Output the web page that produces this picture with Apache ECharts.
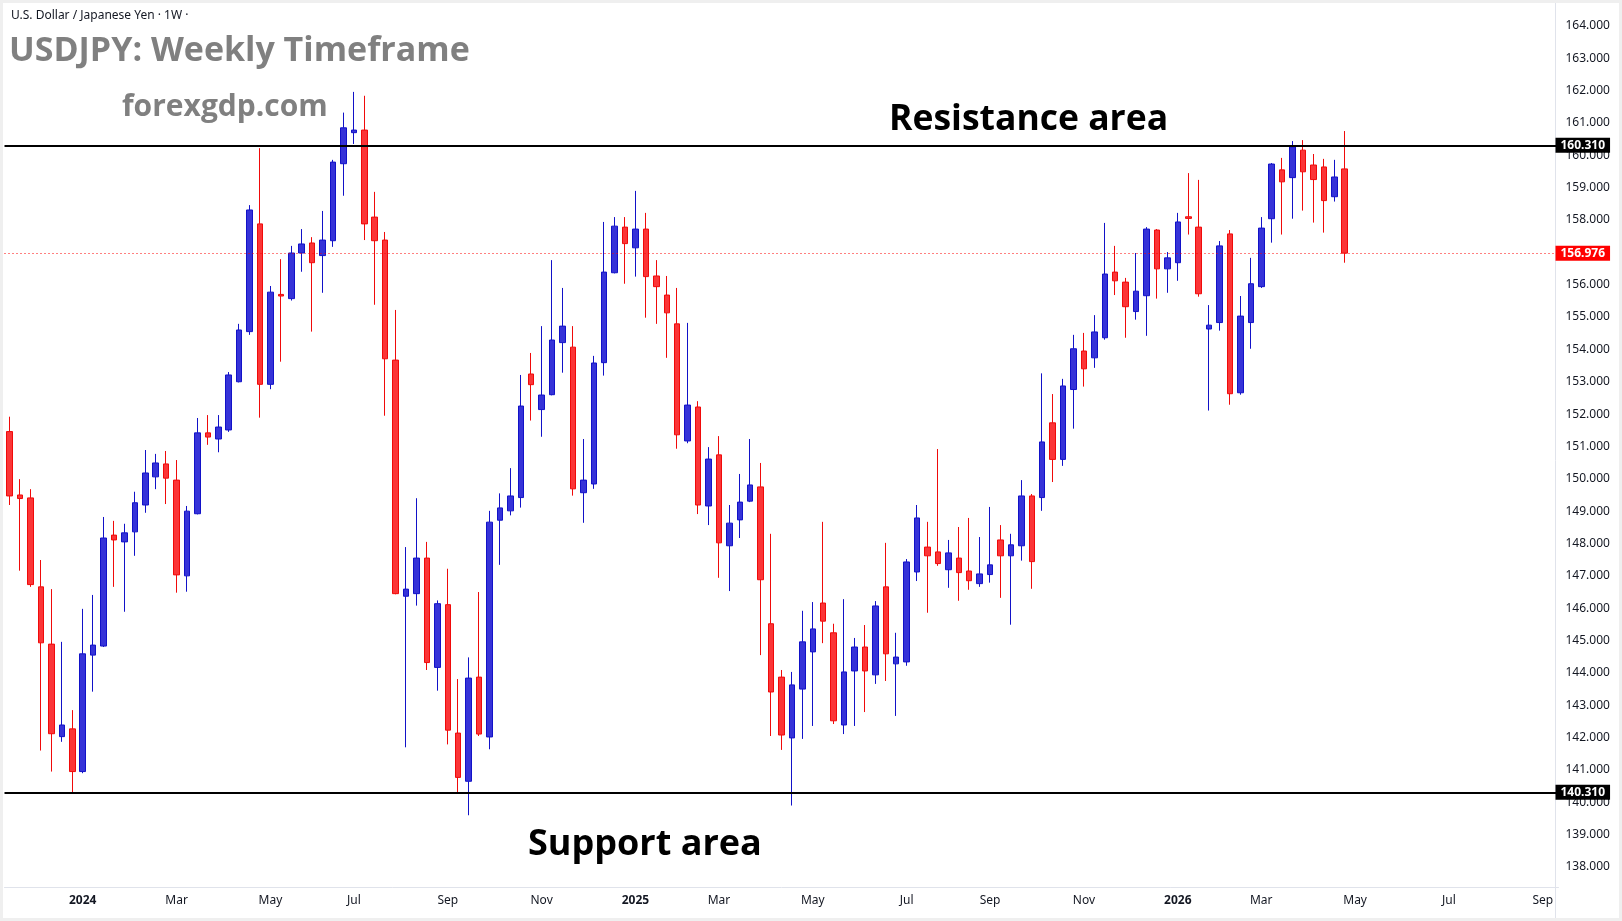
<!DOCTYPE html>
<html>
<head>
<meta charset="utf-8">
<title>USDJPY Weekly</title>
<script src="https://cdn.jsdelivr.net/npm/echarts@6/dist/echarts.min.js"></script>
<style>
html, body {
  margin: 0;
  padding: 0;
  background: #fff;
}
#main {
  width: 1622px;
  height: 921px;
  background: #fff;
  box-shadow: inset 0 0 0 3px #efefef;
}
</style>
</head>
<body>
<div id="main"></div>
<script>
// weekly candles, first one is the week of 2023-11-13
var firstWeek = '2023-11-13'
var weeksOnAxis = 149

var opens = [
  151.46, 149.50, 149.41, 146.66, 144.89, 142.03, 142.27, 140.95, 144.55, 144.83,
  148.26, 148.05, 148.36, 149.19, 150.06, 150.46, 149.96, 147.00, 148.92, 151.42,
  151.23, 151.51, 153.00, 154.55, 157.88, 152.92, 155.70, 155.57, 156.98, 157.29,
  156.90, 157.36, 159.74, 160.70, 160.78, 158.09, 157.38, 153.67, 146.37, 146.45,
  147.55, 144.17, 146.11, 142.14, 140.65, 143.87, 142.02, 148.72, 149.01, 149.42,
  153.24, 152.14, 152.60, 154.21, 154.07, 149.57, 149.84, 153.59, 156.37, 157.78,
  157.14, 157.72, 156.27, 155.68, 154.79, 151.17, 152.22, 149.16, 150.74, 147.93,
  148.73, 149.31, 149.75, 145.52, 143.87, 141.99, 143.50, 144.65, 146.16, 145.24,
  142.39, 144.06, 144.80, 143.94, 146.66, 144.28, 144.34, 147.12, 147.89, 147.74,
  147.19, 147.55, 147.15, 146.76, 147.04, 148.11, 147.62, 147.93, 149.47, 149.42,
  151.73, 150.60, 152.76, 153.95, 153.74, 154.36, 156.39, 156.08, 155.17, 155.66,
  157.69, 156.49, 156.68, 158.10, 157.78, 154.63, 154.83, 157.57, 152.66, 154.83,
  155.94, 158.04, 159.55, 159.31, 160.16, 159.70, 159.64, 158.72, 159.58
]
var closes = [
  149.47, 149.39, 146.73, 144.93, 142.12, 142.39, 140.95, 144.59, 144.86, 148.17,
  148.11, 148.33, 149.26, 150.18, 150.49, 150.02, 147.03, 149.00, 151.42, 151.29,
  151.60, 153.21, 154.60, 158.31, 152.92, 155.77, 155.65, 156.98, 157.26, 156.68,
  157.38, 159.79, 160.85, 160.78, 157.88, 157.36, 153.71, 146.45, 146.59, 147.55,
  144.32, 146.14, 142.23, 140.77, 143.84, 142.11, 148.66, 149.10, 149.47, 152.25,
  152.91, 152.59, 154.29, 154.72, 149.69, 149.96, 153.58, 156.39, 157.81, 157.27,
  157.72, 156.25, 155.94, 155.13, 151.36, 152.28, 149.19, 150.61, 148.02, 148.63,
  149.28, 149.81, 146.88, 143.41, 142.08, 143.63, 144.96, 145.36, 145.60, 142.52,
  144.03, 144.80, 144.06, 146.07, 144.59, 144.49, 147.43, 148.79, 147.62, 147.38,
  147.71, 147.10, 146.85, 147.06, 147.34, 147.62, 147.96, 149.47, 147.44, 151.14,
  150.60, 152.87, 154.02, 153.40, 154.54, 156.33, 156.12, 155.32, 155.80, 157.72,
  156.49, 156.83, 157.94, 158.05, 155.72, 154.75, 157.20, 152.63, 155.03, 156.03,
  157.75, 159.73, 159.18, 160.26, 159.49, 159.25, 158.60, 159.33, 156.976
]
var lows = [
  149.19, 147.16, 146.66, 141.60, 140.95, 141.87, 140.28, 140.90, 143.42, 144.80,
  146.66, 145.89, 147.62, 148.95, 149.68, 149.22, 146.48, 146.51, 148.90, 151.05,
  150.82, 151.45, 152.98, 154.45, 151.89, 152.77, 153.62, 155.51, 156.40, 154.55,
  155.75, 157.17, 158.75, 160.35, 157.38, 155.38, 151.95, 146.43, 141.70, 146.08,
  144.09, 143.45, 141.79, 140.30, 139.60, 142.05, 141.64, 147.34, 148.87, 149.11,
  151.80, 151.30, 152.58, 153.28, 149.48, 148.64, 149.69, 153.19, 156.35, 156.03,
  156.25, 154.98, 154.79, 153.74, 150.93, 151.10, 148.91, 148.57, 146.94, 146.53,
  148.17, 149.28, 144.55, 142.05, 141.62, 139.90, 141.96, 142.36, 144.92, 142.42,
  142.11, 142.36, 142.79, 143.66, 143.75, 142.67, 144.22, 146.84, 145.86, 147.31,
  146.63, 146.23, 146.57, 146.66, 146.79, 146.32, 145.49, 147.47, 146.60, 149.01,
  149.90, 150.40, 151.55, 152.85, 153.43, 154.30, 155.68, 154.36, 154.92, 154.42,
  155.57, 155.75, 156.12, 157.55, 155.63, 152.11, 154.58, 152.29, 152.60, 154.02,
  155.90, 157.30, 157.55, 158.04, 158.29, 157.92, 157.61, 158.57, 156.68
]
var highs = [
  151.92, 149.99, 149.68, 147.49, 146.59, 144.96, 142.85, 145.98, 146.41, 148.82,
  148.70, 148.61, 149.60, 150.89, 150.77, 150.86, 150.58, 149.16, 151.88, 151.97,
  151.97, 153.30, 154.79, 158.46, 160.22, 155.96, 156.79, 157.20, 157.72, 157.47,
  158.28, 159.86, 161.32, 161.96, 161.84, 158.87, 157.63, 155.22, 147.89, 149.40,
  148.05, 146.24, 147.22, 143.81, 144.48, 146.50, 149.01, 149.55, 150.33, 153.21,
  153.89, 154.72, 156.76, 155.90, 154.72, 151.23, 153.80, 157.94, 158.09, 158.09,
  158.90, 158.22, 156.76, 156.27, 155.90, 154.82, 152.40, 150.98, 151.32, 149.19,
  150.15, 151.23, 150.49, 148.30, 144.09, 144.03, 145.92, 146.19, 148.67, 145.52,
  146.28, 145.08, 145.48, 146.22, 148.02, 145.24, 147.52, 149.19, 148.67, 150.92,
  148.11, 148.51, 148.79, 148.20, 149.13, 148.57, 148.30, 149.96, 149.53, 153.26,
  152.62, 153.09, 154.45, 154.51, 155.06, 157.91, 157.20, 156.21, 156.98, 157.78,
  157.72, 157.01, 158.22, 159.45, 159.24, 155.37, 157.35, 157.69, 155.65, 156.83,
  158.09, 159.76, 159.92, 160.44, 160.47, 160.04, 159.89, 159.86, 160.75
]

var priceTicks = []
for (var t = 138; t <= 164; t++) priceTicks.push(t)

var resistance = 160.31
var support = 140.31
var lastClose = 156.976
var monthNames = ['Jan', 'Feb', 'Mar', 'Apr', 'May', 'Jun', 'Jul', 'Aug', 'Sep', 'Oct', 'Nov', 'Dec']

// category axis: one slot per week
var weeks = []
var start = new Date(firstWeek + 'T00:00:00Z')
for (var i = 0; i < weeksOnAxis; i++) {
  var d = new Date(start.getTime() + i * 7 * 86400000)
  weeks.push(d.toISOString().slice(0, 10))
}

var candles = opens.map(function (o, i) {
  return [o, closes[i], lows[i], highs[i]]
})

function showMonth (index, value) {
  var d = new Date(value + 'T00:00:00Z')
  return d.getUTCDate() <= 7 && d.getUTCMonth() % 2 === 0
}

var textColor = '#131722'
var fontStack = '"Noto Sans", "DejaVu Sans", sans-serif'

var myChart = echarts.init(document.getElementById('main'))
myChart.setOption({
  animation: false,
  grid: {
    left: 4.5,
    width: 1554,
    top: 3,
    height: 884
  },
  xAxis: {
    type: 'category',
    data: weeks,
    boundaryGap: true,
    axisLine: { show: true, lineStyle: { color: '#e0e3eb', width: 1 } },
    axisTick: { show: false },
    splitLine: { show: false },
    axisLabel: {
      interval: showMonth,
      margin: 8,
      color: textColor,
      fontFamily: fontStack,
      fontSize: 12,
      formatter: function (value) {
        var d = new Date(value + 'T00:00:00Z')
        if (d.getUTCMonth() === 0) return '{y|' + d.getUTCFullYear() + '}'
        return '{m|' + monthNames[d.getUTCMonth()] + '}'
      },
      rich: {
        y: { fontWeight: 'bold', fontSize: 12, color: textColor, fontFamily: fontStack },
        m: { fontSize: 12, color: textColor, fontFamily: fontStack }
      }
    }
  },
  yAxis: {
    type: 'value',
    position: 'right',
    min: 137.382,
    max: 164.708,
    scale: true,
    axisLine: { show: false },
    axisTick: { show: false },
    splitLine: { show: false },
    axisLabel: {
      customValues: priceTicks,
      margin: 7,
      color: textColor,
      fontFamily: fontStack,
      fontSize: 12,
      formatter: function (v) { return v.toFixed(3) }
    }
  },
  series: [
    {
      name: 'USDJPY',
      type: 'candlestick',
      data: candles,
      barWidth: 6,
      itemStyle: {
        color: '#3633d8',
        color0: '#fb3537',
        borderColor: '#1212c8',
        borderColor0: '#f00a0a',
        borderWidth: 1
      },
      markLine: {
        silent: true,
        symbol: ['none', 'none'],
        precision: 3,
        animation: false,
        data: [
          {
            yAxis: resistance,
            lineStyle: { color: '#000', width: 2, type: 'solid' },
            label: { backgroundColor: '#000' }
          },
          {
            yAxis: support,
            lineStyle: { color: '#000', width: 2, type: 'solid' },
            label: { backgroundColor: '#000' }
          },
          {
            yAxis: lastClose,
            lineStyle: { color: '#f00', width: 1, type: [1, 3] },
            label: { backgroundColor: '#f00' }
          }
        ],
        label: {
          show: true,
          position: 'end',
          distance: -3,
          color: '#fff',
          fontFamily: fontStack,
          fontSize: 12,
          fontWeight: 'bold',
          padding: [2, 5, 1, 5],
          formatter: function (p) { return Number(p.value).toFixed(3) }
        }
      }
    }
  ],
  graphic: [
    {
      type: 'line',
      shape: { x1: 1555.5, y1: 3, x2: 1555.5, y2: 918 },
      style: { stroke: '#e0e3eb', lineWidth: 1 },
      z: 1
    },
    {
      type: 'text',
      left: 11,
      top: 10,
      style: { text: 'U.S. Dollar / Japanese Yen · 1W ·', fill: textColor, font: '12px "Noto Sans", sans-serif' }
    },
    {
      type: 'text',
      left: 9,
      top: 34,
      style: { text: 'USDJPY: Weekly Timeframe', fill: '#808080', font: 'bold 34px "Open Sans", sans-serif' }
    },
    {
      type: 'text',
      left: 122,
      top: 92,
      style: { text: 'forexgdp.com', fill: '#808080', font: 'bold 30px "Open Sans", sans-serif' }
    },
    {
      type: 'text',
      left: 889,
      top: 102,
      style: { text: 'Resistance area', fill: '#000', font: 'bold 35.5px "Open Sans", sans-serif' }
    },
    {
      type: 'text',
      left: 528,
      top: 827,
      style: { text: 'Support area', fill: '#000', font: 'bold 36px "Open Sans", sans-serif' }
    }
  ]
})
window.onresize = myChart.resize
</script>
</body>
</html>
